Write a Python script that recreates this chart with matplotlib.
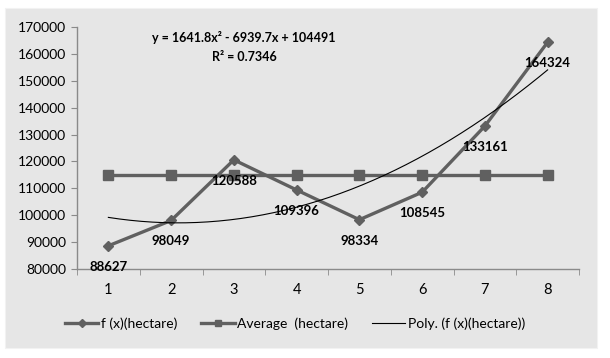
import numpy as np
import matplotlib.pyplot as plt
from matplotlib.patches import Rectangle
from matplotlib.ticker import FixedLocator, NullFormatter

# Data
years = [1, 2, 3, 4, 5, 6, 7, 8]
area = [88627, 98049, 120588, 109396, 98334, 108545, 133161, 164324]
avg_value = np.mean(area)
avg = [avg_value] * len(years)

plt.rcParams['font.family'] = ['Lato', 'DejaVu Sans']

bg = '#e6e6e6'
line_col = '#606060'
axis_col = '#8a8a8a'

fig = plt.figure(figsize=(6.1, 3.58), dpi=100)
fig.patch.set_facecolor('white')

# gray chart area panel
fig.patches.append(Rectangle((5 / 610, 1 - 348 / 358), 592 / 610, 340 / 358,
                             transform=fig.transFigure, facecolor=bg,
                             edgecolor='#f2f2f2', lw=0.8, zorder=-10))

ax = fig.add_axes([77 / 610, 1 - 269 / 358, 502 / 610, 242 / 358])
ax.set_facecolor(bg)

# Series
ax.plot(years, area, color=line_col, lw=2.4, marker='D', ms=5,
        label='f (x)(hectare)', zorder=3)
ax.plot(years, avg, color=line_col, lw=2.4, marker='s', ms=6.5,
        label='Average  (hectare)', zorder=2)

# Polynomial trend line (order 2)
coef = np.polyfit(years, area, 2)
xs = np.linspace(1, 8, 200)
ax.plot(xs, np.polyval(coef, xs), color='black', lw=0.8,
        label='Poly. (f (x)(hectare))', zorder=4)

# Data labels below points
for x, y in zip(years, area):
    ax.annotate(f"{y}", (x, y), xytext=(0, -15), textcoords='offset points',
                ha='center', va='center', fontsize=9.5, fontweight='bold',
                color='black', zorder=5)

# Equation
ax.text(0.333, 0.955, "y = 1641.8x² - 6939.7x + 104491", transform=ax.transAxes,
        ha='center', va='center', fontsize=9, fontweight='bold')
ax.text(0.333, 0.875, "R² = 0.7346", transform=ax.transAxes,
        ha='center', va='center', fontsize=9, fontweight='bold')

# Axes
ax.set_xlim(0.5, 8.5)
ax.set_ylim(80000, 170000)
ax.set_yticks(np.arange(80000, 170001, 10000))
ax.set_xticks(years)
ax.xaxis.set_minor_locator(FixedLocator(np.arange(0.5, 8.6, 1)))
ax.xaxis.set_minor_formatter(NullFormatter())
ax.tick_params(axis='x', which='major', length=0, pad=10, labelsize=10.5)
ax.tick_params(axis='x', which='minor', length=4, color=axis_col, direction='out')
ax.tick_params(axis='y', length=4, color=axis_col, direction='out', pad=4, labelsize=10)

for s in ['top', 'right']:
    ax.spines[s].set_visible(False)
for s in ['left', 'bottom']:
    ax.spines[s].set_color(axis_col)
    ax.spines[s].set_linewidth(1.0)

handles, labels = ax.get_legend_handles_labels()
fig.legend(handles, labels, loc='center', bbox_to_anchor=(0.484, 1 - 324 / 358),
           ncol=3, frameon=False, fontsize=10, handlelength=2.4,
           columnspacing=1.7, handletextpad=0.2, markerscale=0.75)

plt.savefig("out.png", dpi=100, facecolor='white')
